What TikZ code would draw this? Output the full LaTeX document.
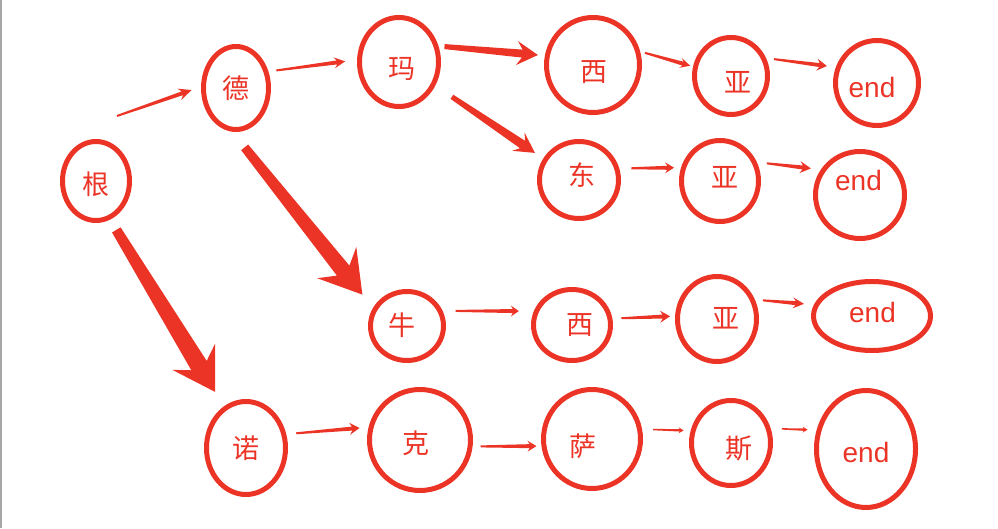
\documentclass[tikz,border=0pt]{standalone}
\usepackage{fontspec}
\setmainfont{Liberation Sans}
\newfontfamily\cjk{Noto Sans CJK SC}
\usepackage{tikz}
\usetikzlibrary{shapes.geometric, calc}

\definecolor{trieRed}{RGB}{235,52,38}

\tikzset{
  tag/.style={text=trieRed, inner sep=0pt, font=\cjk\fontsize{27}{27}\selectfont},
  endtag/.style={text=trieRed, inner sep=0pt, font=\fontsize{28}{28}\selectfont},
  ring/.style={ellipse, draw=trieRed, line width=5pt, inner sep=0pt},
  % text, x offset, y offset of the text
  letter/.style n args={3}{ring, label={[tag, xshift=#2pt, yshift=#3pt]center:#1}},
  endmark/.style 2 args={ring, label={[endtag, xshift=#1pt, yshift=#2pt]center:end}}
}

% tapered arrow: start, tip, half width at start, half width at head, head length, head half width
\newcommand{\fatarrow}[6]{%
  \fill[trieRed] let \p1=#1, \p2=#2, \n1={atan2(\y2-\y1,\x2-\x1)} in
    ($(\p1)+(\n1+90:#3)$)
    -- ($(\p2)!0.75*#5!(\p1)+(\n1+90:#4)$)
    -- ($(\p2)!#5!(\p1)+(\n1+90:#6)$)
    -- (\p2)
    -- ($(\p2)!#5!(\p1)+(\n1-90:#6)$)
    -- ($(\p2)!0.75*#5!(\p1)+(\n1-90:#4)$)
    -- ($(\p1)+(\n1-90:#3)$) -- cycle;}

\begin{document}
\begin{tikzpicture}[x=1pt, y=1pt]
    \useasboundingbox (0,0) rectangle (998,528);
    \fill[gray!70] (0,0) rectangle (2,528);

    % Draw the nodes
    \node[letter={根}{0}{-3.5}, minimum width=67pt, minimum height=79pt] (gen) at (96,347) {};
    \node[letter={德}{0}{0}, minimum width=65pt, minimum height=83pt] (de) at (236,440) {};
    \node[letter={玛}{3}{-6.5}, minimum width=79pt, minimum height=89pt] (ma) at (399,466) {};
    \node[letter={西}{1}{-7}, minimum width=93pt, minimum height=95pt] (xiA) at (593,463) {};
    \node[letter={亚}{7}{-6}, minimum width=73pt, minimum height=77pt] (yaA) at (731,452) {};
    \node[endmark={-5}{-4}, minimum width=83pt, minimum height=85pt] (endA) at (877,445) {};
    \node[letter={东}{3}{4.5}, minimum width=79pt, minimum height=77pt] (dong) at (579,348) {};
    \node[letter={亚}{4.5}{4}, minimum width=77pt, minimum height=81pt] (yaB) at (720,347) {};
    \node[endmark={-1.5}{15}, minimum width=89pt, minimum height=87pt] (endB) at (860,333) {};
    \node[letter={牛}{-5}{0.5}, minimum width=73pt, minimum height=69pt] (niu) at (407,202) {};
    \node[letter={西}{8}{0}, minimum width=77pt, minimum height=71pt] (xiC) at (572,203) {};
    \node[letter={亚}{9}{0.5}, minimum width=79pt, minimum height=85pt] (yaC) at (717,209) {};
    \node[endmark={0.5}{4}, minimum width=117pt, minimum height=69pt] (endC) at (872,212) {};
    \node[letter={诺}{0}{0}, minimum width=79pt, minimum height=93pt] (nuo) at (246,80) {};
    \node[letter={克}{-4}{-3}, minimum width=101pt, minimum height=101pt] (ke) at (420,88) {};
    \node[letter={萨}{-9.5}{-7.5}, minimum width=97pt, minimum height=99pt] (sa) at (592,89) {};
    \node[letter={斯}{7.5}{-5.5}, minimum width=79pt, minimum height=85pt] (si) at (731,85) {};
    \node[endmark={0}{-3}, minimum width=99pt, minimum height=117pt] (endD) at (866,79) {};

    % Draw the arrows
    \fatarrow{([shift={(21,23)}]gen.north)}{($(de.178)!10pt!([shift={(21,23)}]gen.north)$)}{1pt}{2pt}{13pt}{6pt}
    \fatarrow{($(de.27)!8pt!(ma.177)$)}{($(ma.177)!12pt!(de.27)$)}{1pt}{2pt}{11pt}{5.5pt}
    \fatarrow{($(ma.22)!6pt!(xiA.169)$)}{($(xiA.169)!7pt!(ma.22)$)}{2.5pt}{4pt}{21pt}{12pt}
    \fatarrow{($(ma.-33)!20pt!(dong.149)$)}{($(dong.149)!10pt!(ma.-33)$)}{2.5pt}{4.5pt}{20pt}{11pt}
    \fatarrow{($(xiA.16)!5pt!(yaA.166)$)}{($(yaA.166)!3pt!(xiA.16)$)}{1pt}{2pt}{10pt}{5pt}
    \fatarrow{($(yaA.27)!8pt!(endA.159)$)}{($(endA.159)!9pt!(yaA.27)$)}{1pt}{2pt}{10pt}{6pt}
    \fatarrow{($(dong.16)!12pt!(yaB.161)$)}{($(yaB.161)!7pt!(dong.16)$)}{1pt}{2pt}{9pt}{5.5pt}
    \fatarrow{($(yaB.27)!10pt!(endB.147)$)}{($(endB.147)!10pt!(yaB.27)$)}{1pt}{2pt}{11pt}{6pt}
    \fatarrow{($(de.-95)!20pt!(niu.152)$)}{($(niu.152)!17pt!(de.-95)$)}{4.5pt}{8pt}{41pt}{25pt}
    \fatarrow{($(gen.-70)!12pt!(nuo.118)$)}{($(nuo.118)!17pt!(gen.-70)$)}{5pt}{9pt}{41pt}{25pt}
    \fatarrow{($(niu.23)!13pt!(xiC.160)$)}{($(xiC.160)!15pt!(niu.23)$)}{1pt}{2pt}{8pt}{5.5pt}
    \fatarrow{($(xiC.9)!9pt!(yaC.176)$)}{($(yaC.176)!5pt!(xiC.9)$)}{1pt}{2pt}{10pt}{6pt}
    \fatarrow{($(yaC.27)!8pt!(endC.169)$)}{($(endC.169)!10pt!(yaC.27)$)}{1pt}{2pt}{11pt}{5.5pt}
    \fatarrow{($(nuo.19)!10pt!(ke.166)$)}{($(ke.166)!9pt!(nuo.19)$)}{1pt}{2pt}{10pt}{6pt}
    \fatarrow{($(ke.-7)!8pt!(sa.188)$)}{($(sa.188)!5pt!(ke.-7)$)}{1pt}{2pt}{9pt}{5.5pt}
    \fatarrow{($(sa.11)!11pt!(si.163)$)}{($(si.163)!7pt!(sa.11)$)}{0.7pt}{1.2pt}{5pt}{3pt}
    \fatarrow{($(si.20)!11pt!(endD.159)$)}{($(endD.159)!9pt!(si.20)$)}{0.7pt}{1.2pt}{5pt}{3pt}
\end{tikzpicture}
\end{document}
